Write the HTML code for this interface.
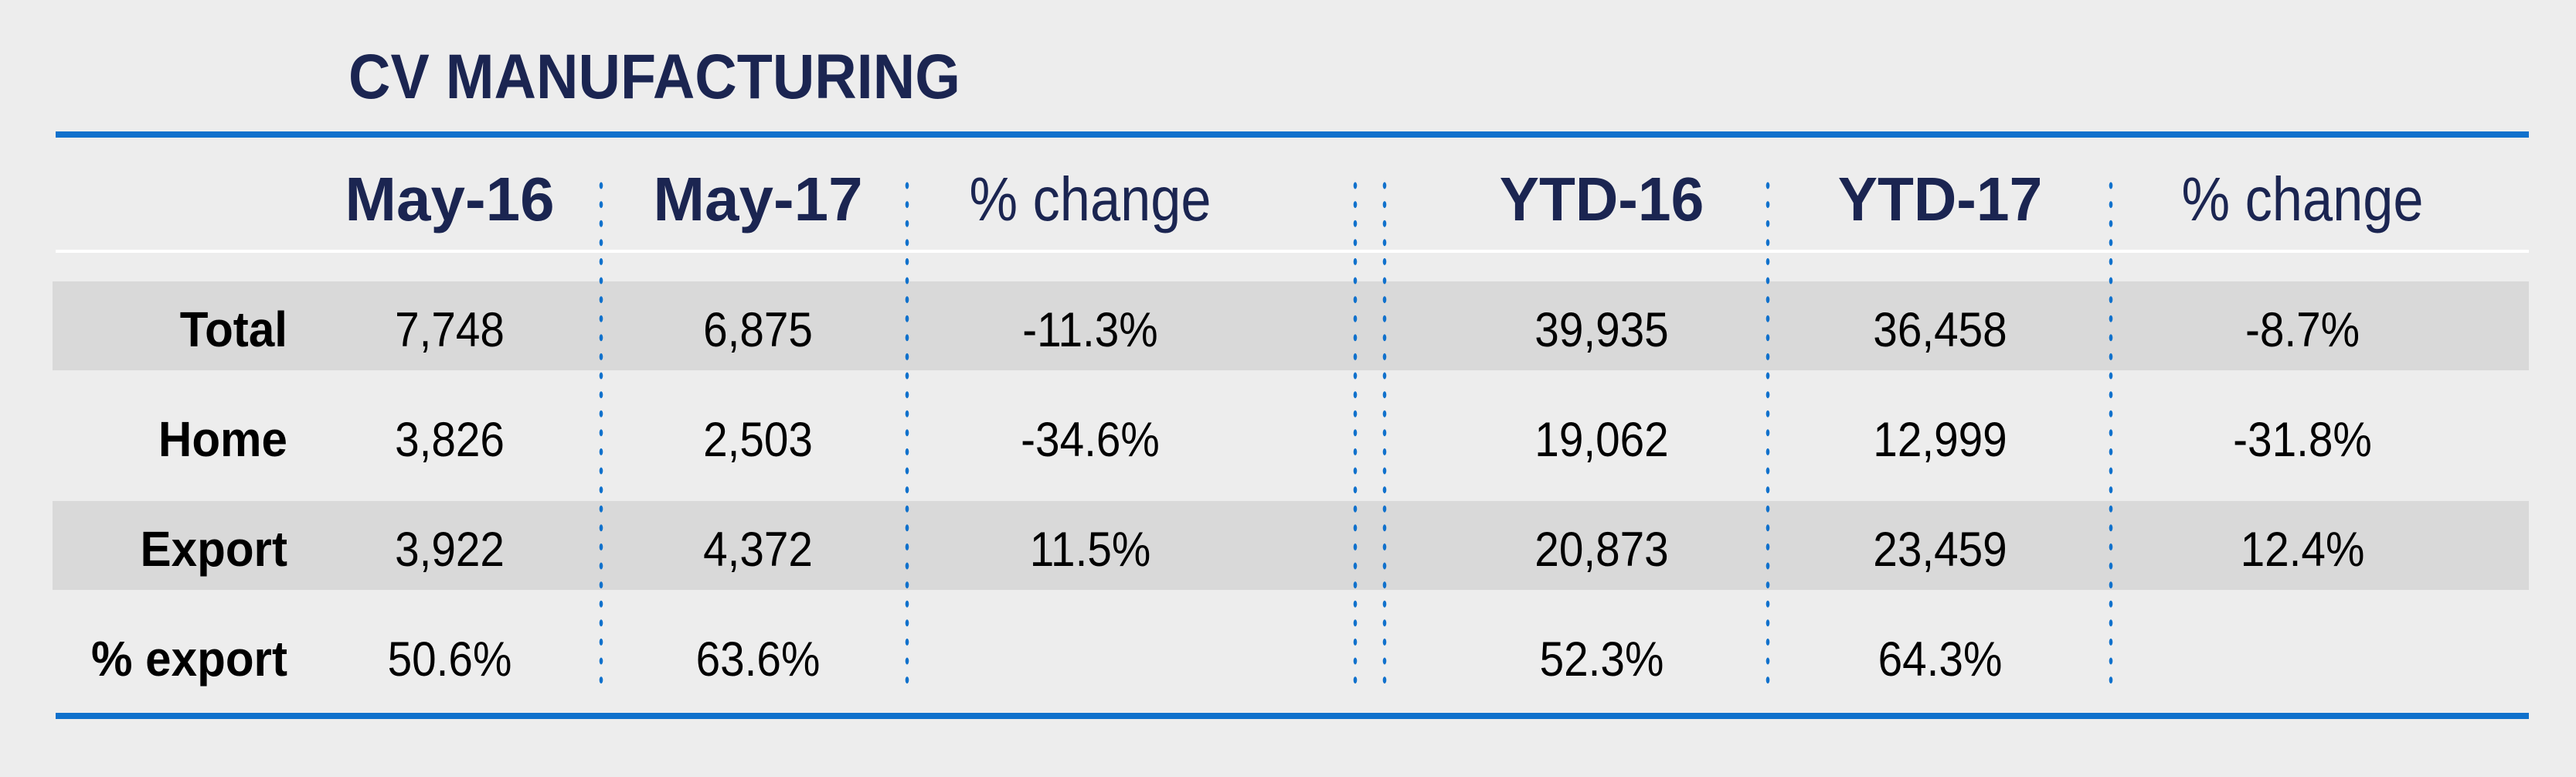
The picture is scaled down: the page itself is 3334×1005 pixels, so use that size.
<!DOCTYPE html>
<html><head><meta charset="utf-8"><style>
html,body{margin:0;padding:0;background:#ededed;}
svg{display:block;}
text{font-family:"Liberation Sans",sans-serif;}
</style></head><body>
<svg id="t" width="3334" height="1005" viewBox="0 0 3334 1005" xmlns="http://www.w3.org/2000/svg">
<rect x="0" y="0" width="3334" height="1005" fill="#ededed"/>
<text transform="translate(451,127) scale(0.92,1)" font-size="82" font-weight="bold" fill="#1b2551">CV MANUFACTURING</text>
<rect x="72" y="170" width="3201" height="8" fill="#1071cc"/>
<rect x="72" y="323" width="3201" height="4" fill="#ffffff"/>
<rect x="72" y="922" width="3201" height="8" fill="#1071cc"/>
</svg>
<script>
const headers = ["May-16","May-17","% change","YTD-16","YTD-17","% change"];
const rowLabels = ["Total","Home","Export","% export"];
const col1 = ["7,748","3,826","3,922","50.6%"];
const col2 = ["6,875","2,503","4,372","63.6%"];
const col3 = ["-11.3%","-34.6%","11.5%",""];
const col4 = ["39,935","19,062","20,873","52.3%"];
const col5 = ["36,458","12,999","23,459","64.3%"];
const col6 = ["-8.7%","-31.8%","12.4%",""];
const cols = [col1,col2,col3,col4,col5,col6];
const colX = [582,981,1411,2073,2511,2980];
const headerBold = [true,true,false,true,true,false];
const headerScale = [1,1,0.88,0.96,0.96,0.88];
const dividerX = [778,1174,1754,1792,2288,2732];
const NS = "http://www.w3.org/2000/svg";
const svg = document.getElementById('t');
function mk(tag, attrs){const e=document.createElementNS(NS,tag);for(const k in attrs)e.setAttribute(k,attrs[k]);return e;}
const rowY = i => 422 + i*142;
// bands
[0,2].forEach(i=>{
  const r = mk('rect',{x:68,y:rowY(i)-58,width:3205,height:115,fill:'#d9d9d9'});
  
  
  svg.appendChild(r);
});
// dotted dividers
dividerX.forEach((x,j)=>{
  const g = mk('g',{fill:'#1071cc'});
  
  
  for(let y=240;y<=880;y+=24.6){g.appendChild(mk('ellipse',{cx:x,cy:y.toFixed(1),rx:2.3,ry:4.5}));}
  svg.appendChild(g);
});
// headers
headers.forEach((h,j)=>{
  const t = mk('text',{transform:`translate(${colX[j]},285) scale(${headerScale[j]},1)`,'text-anchor':'middle','font-size':80,'font-weight':headerBold[j]?'bold':'normal',fill:'#1b2551'});
  t.textContent=h;
  
  
  svg.appendChild(t);
});
// rows
rowLabels.forEach((lab,i)=>{
  const t = mk('text',{transform:`translate(372,${rowY(i)+26}) scale(0.94,1)`,'text-anchor':'end','font-size':64,'font-weight':'bold',fill:'#000'});
  t.textContent=lab;
  
  
  svg.appendChild(t);
  cols.forEach((c,j)=>{
    if(!c[i]) return;
    const v = mk('text',{transform:`translate(${colX[j]},${rowY(i)+26}) scale(0.9,1)`,'text-anchor':'middle','font-size':63,fill:'#000'});
    v.textContent=c[i];
    
    
    svg.appendChild(v);
  });
});
</script>
</body></html>
